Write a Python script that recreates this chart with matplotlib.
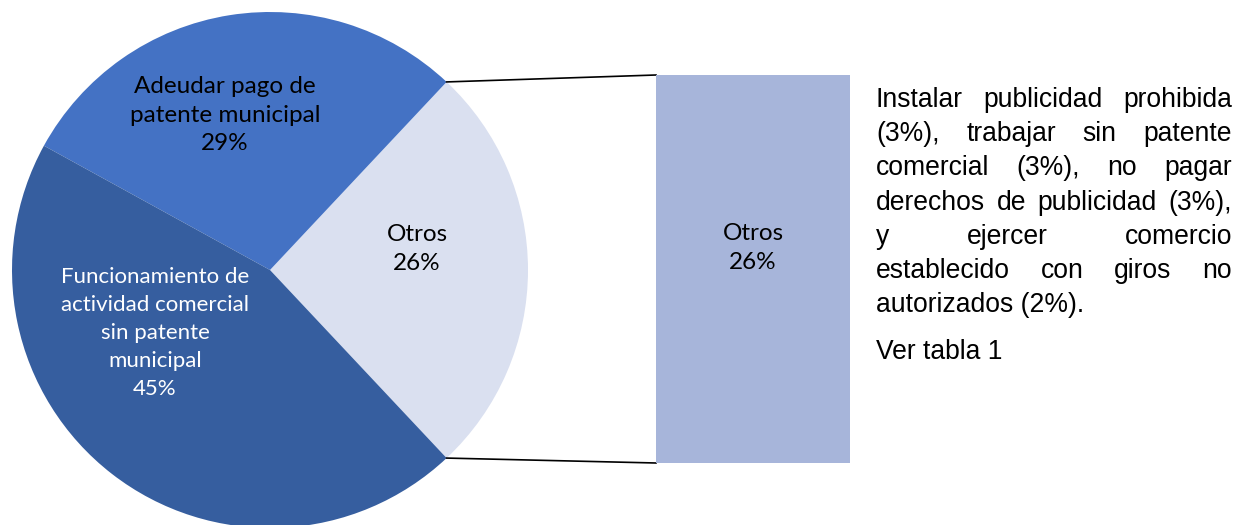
import matplotlib.pyplot as plt
import numpy as np

# pie data (percent)
categories = ["Otros", "Adeudar pago de\npatente municipal", "Funcionamiento de\nactividad comercial\nsin patente\nmunicipal"]
values = [26, 29, 45]
colors = ["#DAE0F0", "#4472C4", "#365E9F"]
text_colors = ["black", "black", "white"]

bar_label = "Otros"
bar_value = 26
bar_color = "#A7B5DA"

note_lines = [
    "Instalar publicidad prohibida",
    "(3%), trabajar sin patente",
    "comercial (3%), no pagar",
    "derechos de publicidad (3%),",
    "y ejercer comercio",
    "establecido con giros no",
    "autorizados (2%).",
]
note_ref = "Ver tabla 1"

W, H = 1236, 525
fig = plt.figure(figsize=(W / 100, H / 100), dpi=100)
ax = fig.add_axes([0, 0, 1, 1])

cx, cy, r = 270, 255, 258
start = -values[0] / 100 * 360 / 2
wedges, _ = ax.pie(values, colors=colors, startangle=start, counterclock=True,
                   center=(cx, cy), radius=r, wedgeprops=dict(linewidth=0))
ax.set_xlim(0, W)
ax.set_ylim(0, H)
ax.set_aspect("equal")
ax.axis("off")

lab_font = "Lato"
# labels inside the slices
label_pos = [(417, H - 249), (225, H - 115), (155, H - 333)]
label_fs = [17.5, 17.5, 16]
label_ls = [1.47, 1.47, 1.5]
for txt, val, col, (x, y), fs, ls in zip(categories, values, text_colors, label_pos, label_fs, label_ls):
    ax.text(x, y, f"{txt}\n{val}%", ha="center", va="center", color=col,
            fontsize=fs, family=lab_font, linespacing=ls)

# bar of pie (the "Otros" breakdown)
bx0, bx1, by0, by1 = 656, 850, 62, 450
bax = fig.add_axes([bx0 / W, by0 / H, (bx1 - bx0) / W, (by1 - by0) / H])
bax.bar([0], [bar_value], width=1, color=bar_color)
bax.set_xlim(-0.5, 0.5)
bax.set_ylim(0, bar_value)
bax.axis("off")
bax.text(0, bar_value - (249 - 76) / (by1 - by0) * bar_value, f"{bar_label}\n{bar_value}%",
         ha="center", va="center", fontsize=17.5, family=lab_font, linespacing=1.47)

# connector lines from the wedge edges to the bar corners
for ang, yb in [(start + values[0] / 100 * 360, by1), (start, by0)]:
    t = np.deg2rad(ang)
    px, py = cx + r * np.cos(t), cy + r * np.sin(t)
    ax.plot([px, bx0], [py, yb], color="black", linewidth=1.2)

# justified note text on the right
tx0, tx1 = 876, 1232
nfs = 19.1
nfont = "Liberation Sans"
renderer = fig.canvas.get_renderer()
for i, line in enumerate(note_lines):
    y = H - (100 + 34.2 * i)
    words = line.split()
    if i == len(note_lines) - 1:
        ax.text(tx0, y, line, ha="left", va="center", fontsize=nfs, family=nfont)
        continue
    arts = [ax.text(0, y, w, ha="left", va="center", fontsize=nfs, family=nfont)
            for w in words]
    widths = [a.get_window_extent(renderer).width for a in arts]
    gap = (tx1 - tx0 - sum(widths)) / (len(words) - 1)
    x = tx0
    for a, w in zip(arts, widths):
        a.set_x(x)
        x += w + gap
ax.text(tx0, H - 352, note_ref, ha="left", va="center", fontsize=nfs, family=nfont)

fig.savefig("out.png", dpi=100)
